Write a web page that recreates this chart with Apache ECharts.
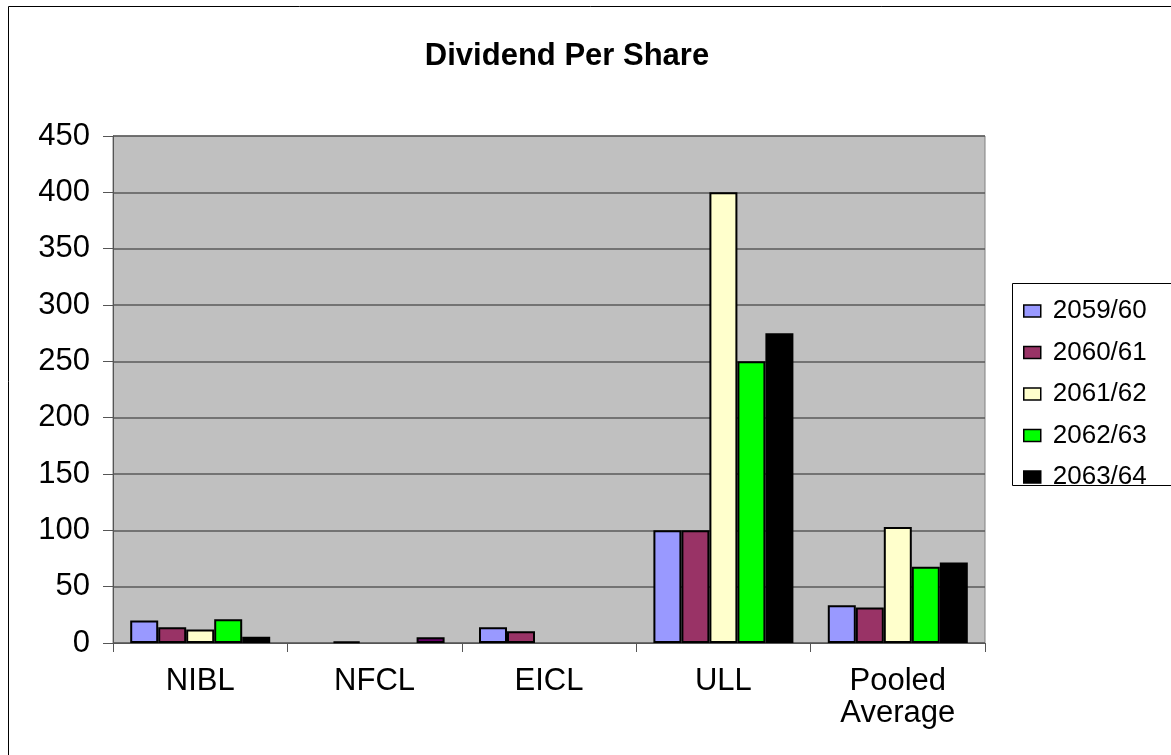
<!DOCTYPE html>
<html>
<head>
<meta charset="utf-8">
<script src="https://cdn.jsdelivr.net/npm/echarts@6/dist/echarts.min.js"></script>
<style>html,body{margin:0;padding:0;background:#fff}#c{width:1171px;height:755px}</style>
</head>
<body>
<div id="c"></div>
<script>
const categories = ['NIBL', 'NFCL', 'EICL', 'ULL', 'Pooled\nAverage'];
const seriesNames = ['2059/60', '2060/61', '2061/62', '2062/63', '2063/64'];
const s2059 = [20, 0, 14, 100, 33.5];
const s2060 = [14, 1.5, 10.5, 100, 31.5];
const s2061 = [12, 0, 0, 400, 103];
const s2062 = [21, 0, 0, 250, 67.75];
const s2063 = [5.5, 5, 0, 275, 71.5];
const yTicks = [0, 50, 100, 150, 200, 250, 300, 350, 400, 450];

const colors = ['#9999FF', '#993366', '#FFFFCC', '#00FF00', '#000000'];
const values = [s2059, s2060, s2061, s2062, s2063];
const FONT = 'Liberation Sans, Arial, sans-serif';

const chart = echarts.init(document.getElementById('c'), null, {renderer: 'canvas'});

const series = seriesNames.map((name, i) => ({
  name: name,
  type: 'bar',
  barWidth: 28,
  barGap: '0%',
  itemStyle: {color: colors[i], borderColor: '#000', borderWidth: 2},
  data: values[i].map((v, j) => {
    const val = v === 0 ? '-' : v;
    if (i === 4 && j === 1) return {value: val, itemStyle: {color: '#660066'}};
    return val;
  })
}));

chart.setOption({
  animation: false,
  backgroundColor: '#fff',
  title: {
    text: 'Dividend Per Share',
    left: 562,
    textAlign: 'center',
    top: 36,
    textStyle: {fontFamily: FONT, fontWeight: 'bold', fontSize: 31, color: '#000'}
  },
  graphic: [
    {type: 'rect', shape: {x: 8.5, y: 6.5, width: 1200, height: 800}, style: {fill: null, stroke: '#000', lineWidth: 1}, z: -10},
    {type: 'rect', shape: {x: 1012.5, y: 283.5, width: 200, height: 202}, style: {fill: '#fff', stroke: '#000', lineWidth: 1}, z: -5}
  ],
  legend: {
    orient: 'vertical',
    left: 1018,
    top: 292,
    itemWidth: 17,
    itemHeight: 12,
    itemGap: 13.5,
    icon: 'rect',
    data: seriesNames.map((n) => ({name: n, itemStyle: {borderColor: '#000', borderWidth: 1.5}})),
    textStyle: {fontFamily: FONT, fontSize: 26, color: '#000', lineHeight: 28, padding: [0, 0, 0, 7]}
  },
  grid: {
    left: 113, top: 136, right: 186, bottom: 112,
    show: true, backgroundColor: '#C0C0C0', borderColor: '#808080', borderWidth: 1,
    containLabel: false
  },
  xAxis: {
    type: 'category',
    data: categories,
    axisLine: {show: true, lineStyle: {color: '#555', width: 1}},
    axisTick: {show: true, length: 9, lineStyle: {color: '#555'}},
    axisLabel: {fontFamily: FONT, fontSize: 31, color: '#000', margin: 22, lineHeight: 32, interval: 0}
  },
  yAxis: {
    type: 'value',
    min: yTicks[0],
    max: yTicks[yTicks.length - 1],
    interval: yTicks[1] - yTicks[0],
    axisLine: {show: true, lineStyle: {color: '#555', width: 1}},
    axisTick: {show: true, length: 10, lineStyle: {color: '#555'}},
    splitLine: {show: true, lineStyle: {color: '#5a5a5a', width: 1.5}},
    axisLabel: {fontFamily: FONT, fontSize: 31, color: '#000', margin: 23}
  },
  series: series
});
</script>
</body>
</html>
